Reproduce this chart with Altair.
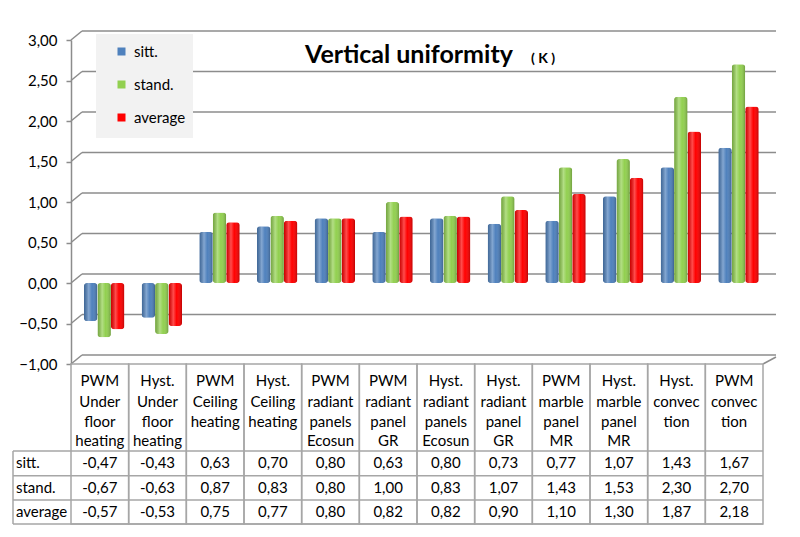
import altair as alt
import pandas as pd

# ---------------- data ----------------
controllers = ["PWM", "Hyst.", "PWM", "Hyst.", "PWM", "PWM", "Hyst.", "Hyst.",
               "PWM", "Hyst.", "Hyst.", "PWM"]
systems = ["Under\nfloor\nheating", "Under\nfloor\nheating", "Ceiling\nheating",
           "Ceiling\nheating", "radiant\npanels\nEcosun", "radiant\npanel\nGR",
           "radiant\npanels\nEcosun", "radiant\npanel\nGR", "marble\npanel\nMR",
           "marble\npanel\nMR", "convec\ntion", "convec\ntion"]
sitt = [-0.47, -0.43, 0.63, 0.70, 0.80, 0.63, 0.80, 0.73, 0.77, 1.07, 1.43, 1.67]
stand = [-0.67, -0.63, 0.87, 0.83, 0.80, 1.00, 0.83, 1.07, 1.43, 1.53, 2.30, 2.70]
average = [-0.57, -0.53, 0.75, 0.77, 0.80, 0.82, 0.82, 0.90, 1.10, 1.30, 1.87, 2.18]
series = ["sitt.", "stand.", "average"]
colors = ["#4f81bd", "#92d050", "#ff0000"]
y_ticks = [-1.0, -0.5, 0.0, 0.5, 1.0, 1.5, 2.0, 2.5, 3.0]
title_main = "Vertical uniformity"
title_unit = "( K )"

# ---------------- tables ----------------
keys = [f"c{i:02d}" for i in range(len(controllers))]
values_by_series = [sitt, stand, average]
rows = []
for s, vals in zip(series, values_by_series):
    for k, v in zip(keys, vals):
        rows.append({"cat": k, "series": s, "value": v,
                     "label": f"{v:.2f}".replace(".", ",")})
df = pd.DataFrame(rows)
cats = pd.DataFrame({"cat": keys, "ctrl": controllers, "sys": systems})
ticks = pd.DataFrame({"v": y_ticks})
ticks_min = pd.DataFrame({"v": [min(y_ticks)]})

W, H = 692, 324
FONT = "Lato"
FS = 15
GRID = "#8c8c8c"
BORDER = "#a6a6a6"

yscale = alt.Scale(domain=[min(y_ticks), max(y_ticks)], nice=False, zero=False)
yaxis = alt.Axis(values=y_ticks, title=None, grid=False,
                 labelExpr="replace(format(datum.value, '.2f'), '.', ',')",
                 domainColor=GRID, domainWidth=1.5, tickColor=GRID, tickWidth=1.5,
                 tickSize=5, labelFontSize=FS, labelFont=FONT, labelColor="#000",
                 labelPadding=9)
xenc = alt.X("cat:N", sort=keys, axis=None,
             scale=alt.Scale(paddingInner=0, paddingOuter=0))


def Y(f):
    return alt.Y(f, scale=yscale, axis=yaxis)


base = alt.Chart(ticks)

grid = base.mark_rule(color=GRID, strokeWidth=1.5, yOffset=-9).encode(
    y=Y("v:Q"), x=alt.value(11), x2=alt.value(W + 13))
diag = base.mark_rule(color=GRID, strokeWidth=1.5, y2Offset=-9).encode(
    y=Y("v:Q"), y2=alt.Y2("v"), x=alt.value(0), x2=alt.value(11))
diag_r = alt.Chart(ticks_min).mark_rule(color=GRID, strokeWidth=1.5, y2Offset=-7).encode(
    y=Y("v:Q"), y2=alt.Y2("v"), x=alt.value(W), x2=alt.value(W + 13))

legend_box = alt.Chart(ticks_min).mark_rect(color="#f2f2f2").encode(
    x=alt.value(25), x2=alt.value(122), y=alt.value(-6), y2=alt.value(98))

bar_enc = dict(
    x=xenc,
    xOffset=alt.XOffset("series:N", sort=series,
                        scale=alt.Scale(paddingOuter=0.64, paddingInner=0, align=0.75)),
    y=Y("value:Q"),
)
bars = alt.Chart(df).mark_bar(cornerRadius=3).encode(
    color=alt.Color("series:N", sort=series,
                    scale=alt.Scale(domain=series, range=colors),
                    legend=alt.Legend(title=None, orient="none", legendX=25, legendY=-6,
                                      padding=10, symbolOffset=8, symbolType="square",
                                      symbolSize=64, symbolStrokeWidth=0,
                                      labelFontSize=FS, labelFont=FONT, labelColor="#000",
                                      rowPadding=17, labelOffset=5)),
    **bar_enc)
shade = alt.Chart(df).mark_bar(
    cornerRadius=3,
    color=alt.Gradient(gradient="linear", x1=0, x2=1, y1=0, y2=0, stops=[
        alt.GradientStop(color="rgba(0,0,0,0.20)", offset=0),
        alt.GradientStop(color="rgba(255,255,255,0.30)", offset=0.35),
        alt.GradientStop(color="rgba(255,255,255,0.0)", offset=0.6),
        alt.GradientStop(color="rgba(0,0,0,0.25)", offset=1)])
).encode(**bar_enc)

t1 = alt.Chart(ticks_min).mark_text(text=title_main, font=FONT, fontSize=25,
                                    fontWeight="bold", align="center", baseline="middle",
                                    color="#000").encode(x=alt.value(338), y=alt.value(15))
t2 = alt.Chart(ticks_min).mark_text(text=title_unit, font=FONT, fontSize=14,
                                    fontWeight="bold", align="center", baseline="middle",
                                    color="#000").encode(x=alt.value(472), y=alt.value(19))

# ---------------- data table ----------------
TOP = H
ROWS = [411, 435.7, 460, 484]
cells = alt.Chart(cats).mark_rect(filled=False, stroke=BORDER, strokeWidth=1.5).encode(
    x=xenc, y=alt.value(TOP), y2=alt.value(ROWS[-1]))
hlines = [alt.Chart(ticks_min).mark_rule(color=BORDER, strokeWidth=1.5).encode(
    x=alt.value(-58), x2=alt.value(W), y=alt.value(r)) for r in ROWS]
vline = alt.Chart(ticks_min).mark_rule(color=BORDER, strokeWidth=1.5).encode(
    x=alt.value(-58), y=alt.value(ROWS[0]), y2=alt.value(ROWS[-1]))

hdr1 = alt.Chart(cats).mark_text(font=FONT, fontSize=FS, color="#000",
                                 baseline="middle").encode(
    x=xenc, y=alt.value(341), text="ctrl:N")
hdr2 = alt.Chart(cats).mark_text(font=FONT, fontSize=FS, color="#000", baseline="top",
                                 lineBreak="\n", lineHeight=19.5).encode(
    x=xenc, y=alt.value(355), text="sys:N")

row_y = [423, 448, 472]
val_layers = []
for s, ry in zip(series, row_y):
    val_layers.append(alt.Chart(df).transform_filter(alt.datum.series == s).mark_text(
        font=FONT, fontSize=FS, color="#000", baseline="middle").encode(
        x=xenc, y=alt.value(ry), text="label:N"))
    val_layers.append(alt.Chart(ticks_min).mark_text(
        text=s, font=FONT, fontSize=FS, color="#000", baseline="middle", align="left").encode(
        x=alt.value(-55), y=alt.value(ry)))

chart = alt.layer(grid, diag, diag_r, legend_box, bars, shade, t1, t2, cells,
                  *hlines, vline, hdr1, hdr2, *val_layers).properties(
    width=W, height=H,
    padding={"left": 4, "top": 22, "right": 5, "bottom": 5},
    background="white",
).configure_view(stroke=None)

chart.save("out.html", embed_options={"renderer": "svg", "actions": False})
